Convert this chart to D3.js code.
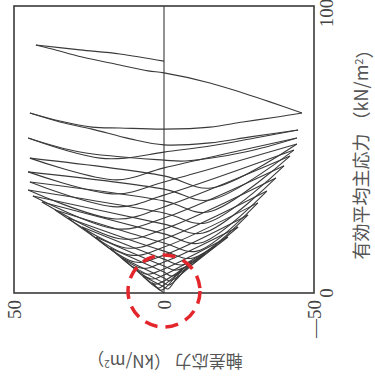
<!DOCTYPE html>
<html>
<head>
<meta charset="utf-8">
<script src="https://d3js.org/d3.v7.min.js"></script>
<style>
body { margin: 0; background: #fff; }
.path-line { fill: none; stroke: #3a3a3a; stroke-width: 1.1; }
.frame { fill: none; stroke: #3a3a3a; stroke-width: 1.6; }
.tick-label { font-family: "Liberation Serif", serif; font-size: 19px; fill: #444; }
.axis-label { font-family: "Noto Sans CJK JP", sans-serif; fill: #555; }
</style>
</head>
<body>
<div id="chart"></div>
<script>

// tick labels
var qTicks = [50, 0, -50];
var pTicks = [0, 100];

// stress path, one array per half cycle: [deviator stress q, mean effective stress p']
var halfCycles = [
  [[0,80.8],[14.7,83.3],[28,84.7],[42.7,86.4]],
  [[42.7,86.4],[37.3,85.0],[27.3,82.2],[16.3,79.8],[5.3,77.4],[0,76.7],[-15.3,73.2],[-26.3,69.7],[-35.3,66.6],[-46,62.7]],
  [[-46,62.7],[-37.7,61.3],[-26.3,59.6],[-15.3,57.8],[0,57.1],[14.7,57.5],[24,57.8],[34.7,59.9],[44.7,62.7]],
  [[44.7,62.7],[34.7,59.6],[24,57.1],[11.3,53.7],[0,51.6],[-15.3,52.3],[-28.7,54.4],[-44.7,56.8]],
  [[-44.7,56.8],[-30.3,54.0],[-15.3,51.2],[0,49.1],[13,47.0],[21.3,47.0],[33,49.8],[45.3,54.0]],
  [[45.3,54.0],[28,49.1],[0,46.3],[-7,46.0],[-27,49.1],[-44.3,54.0]],
  [[-44.3,54.0],[0,43.6],[15.7,39.4],[44.7,47.0]],
  [[44.7,47.0],[0,40.8],[-15.7,36.6],[-44.3,51.9]],
  [[-44.3,51.9],[0,38.7],[16,34.5],[45.3,42.2]],
  [[45.3,42.2],[0,36.2],[-15.3,32.4],[-43.3,49.8]],
  [[-43.3,49.8],[0,34.1],[15.7,30.0],[44.7,38.7]],
  [[44.7,38.7],[0,32.1],[-14.7,28.2],[-42,47.7]],
  [[-42,47.7],[0,30.0],[16,25.8],[45.3,35.9]],
  [[45.3,35.9],[0,27.9],[-14,24.4],[-40,44.3]],
  [[-40,44.3],[0,26.1],[15.7,22.3],[43.7,33.8]],
  [[43.7,33.8],[0,24.0],[-13,20.9],[-37.3,40.1]],
  [[-37.3,40.1],[0,22.3],[14,18.8],[40.7,31.7]],
  [[40.7,31.7],[0,20.6],[-12,17.4],[-34.3,35.5]],
  [[-34.3,35.5],[0,18.8],[12.7,15.7],[36.3,28.9]],
  [[36.3,28.9],[0,17.4],[-11,14.6],[-31.3,31.4]],
  [[-31.3,31.4],[0,16.0],[11.3,13.2],[32,26.1]],
  [[32,26.1],[0,14.6],[-9.7,12.2],[-28,27.2]],
  [[-28,27.2],[0,13.2],[9.7,10.8],[27.3,23.0]],
  [[27.3,23.0],[0,11.8],[-6.3,9.8],[-24.7,23.0]],
  [[-24.7,23.0],[0,10.8],[7.7,8.7],[22.7,19.5]],
  [[22.7,19.5],[0,9.4],[-4.3,8.0],[-21.3,19.5]],
  [[-21.3,19.5],[0,8.4],[6,6.6],[18,15.7]],
  [[18,15.7],[0,7.3],[-2.7,5.9],[-17.3,16.4]],
  [[-17.3,16.4],[0,6.3],[4.3,4.9],[14,12.2]],
  [[14,12.2],[0,5.2],[-2,4.2],[-13.3,13.6]],
  [[-13.3,13.6],[0,4.2],[3,3.1],[10.3,9.1]],
  [[10.3,9.1],[0,3.5],[-1.7,2.8],[-9.3,11.1]],
  [[-9.3,11.1],[0,2.8],[2,1.7],[7,5.9]],
  [[7,5.9],[0,2.1],[-1.3,1.4],[-6,8.7]],
  [[-6,8.7],[0,1.4],[1.3,1.0],[4,3.5]],
  [[4,3.5],[1.3,1.0],[0,0]]
];

var width = 375, height = 387;

var svg = d3.select("#chart").append("svg")
    .attr("width", width)
    .attr("height", height);

// figure is printed turned a quarter: q runs right to left, p' runs upward
var x = d3.scaleLinear().domain([50, -50]).range([14, 314]);
var y = d3.scaleLinear().domain([0, 100]).range([293, 6]);

var line = d3.line()
    .x(function(d) { return x(d[0]); })
    .y(function(d) { return y(d[1]); })
    .curve(d3.curveCatmullRom.alpha(0.5));

// q = 0 line
svg.append("line")
    .attr("x1", x(0)).attr("x2", x(0))
    .attr("y1", y(100)).attr("y2", y(0))
    .attr("stroke", "#3a3a3a")
    .attr("stroke-width", 1.1);

svg.selectAll("path.path-line")
    .data(halfCycles)
  .enter().append("path")
    .attr("class", "path-line")
    .attr("d", line);

svg.append("rect")
    .attr("class", "frame")
    .attr("x", x(50)).attr("y", y(100))
    .attr("width", x(-50) - x(50))
    .attr("height", y(0) - y(100));

// q tick labels, below the frame
svg.selectAll("text.qtick")
    .data(qTicks)
  .enter().append("text")
    .attr("class", "tick-label qtick")
    .attr("transform", function(d) { return "translate(" + x(d) + ",300) rotate(-90)"; })
    .attr("text-anchor", "end")
    .attr("dy", "0.35em")
    .text(function(d) { return d < 0 ? "\u2014" + Math.abs(d) : d; });

// p' tick labels, right of the frame
svg.selectAll("text.ptick")
    .data(pTicks)
  .enter().append("text")
    .attr("class", "tick-label ptick")
    .attr("transform", function(d) { return "translate(326," + (d == 100 ? y(d) + 7 : y(d)) + ") rotate(-90)"; })
    .attr("text-anchor", "middle")
    .attr("dy", "0.35em")
    .text(function(d) { return d; });

// p' axis title
var pt = svg.append("text")
    .attr("class", "axis-label")
    .attr("transform", "translate(362,150) rotate(-90)")
    .attr("text-anchor", "middle")
    .attr("dy", "0.35em")
    .style("font-size", "18px");
pt.append("tspan").text("有効平均主応力 （kN/m");
pt.append("tspan").attr("dy", "-0.45em").style("font-size", "11px").text("2");
pt.append("tspan").attr("dy", "0.45em").text("）");

// q axis title, printed upside down
var qt = svg.append("text")
    .attr("class", "axis-label")
    .attr("transform", "translate(165,361) rotate(180)")
    .attr("text-anchor", "middle")
    .attr("dy", "0.35em")
    .style("font-size", "17px");
qt.append("tspan").text("軸差応力 （kN/m");
qt.append("tspan").attr("dy", "-0.45em").style("font-size", "10px").text("2");
qt.append("tspan").attr("dy", "0.45em").text("）");

// red dashed marker round the origin
svg.append("circle")
    .attr("cx", x(0))
    .attr("cy", y(0) - 2)
    .attr("r", 36)
    .attr("fill", "none")
    .attr("stroke", "#e3262c")
    .attr("stroke-width", 3.5)
    .attr("stroke-dasharray", "13,8");

</script>
</body>
</html>
